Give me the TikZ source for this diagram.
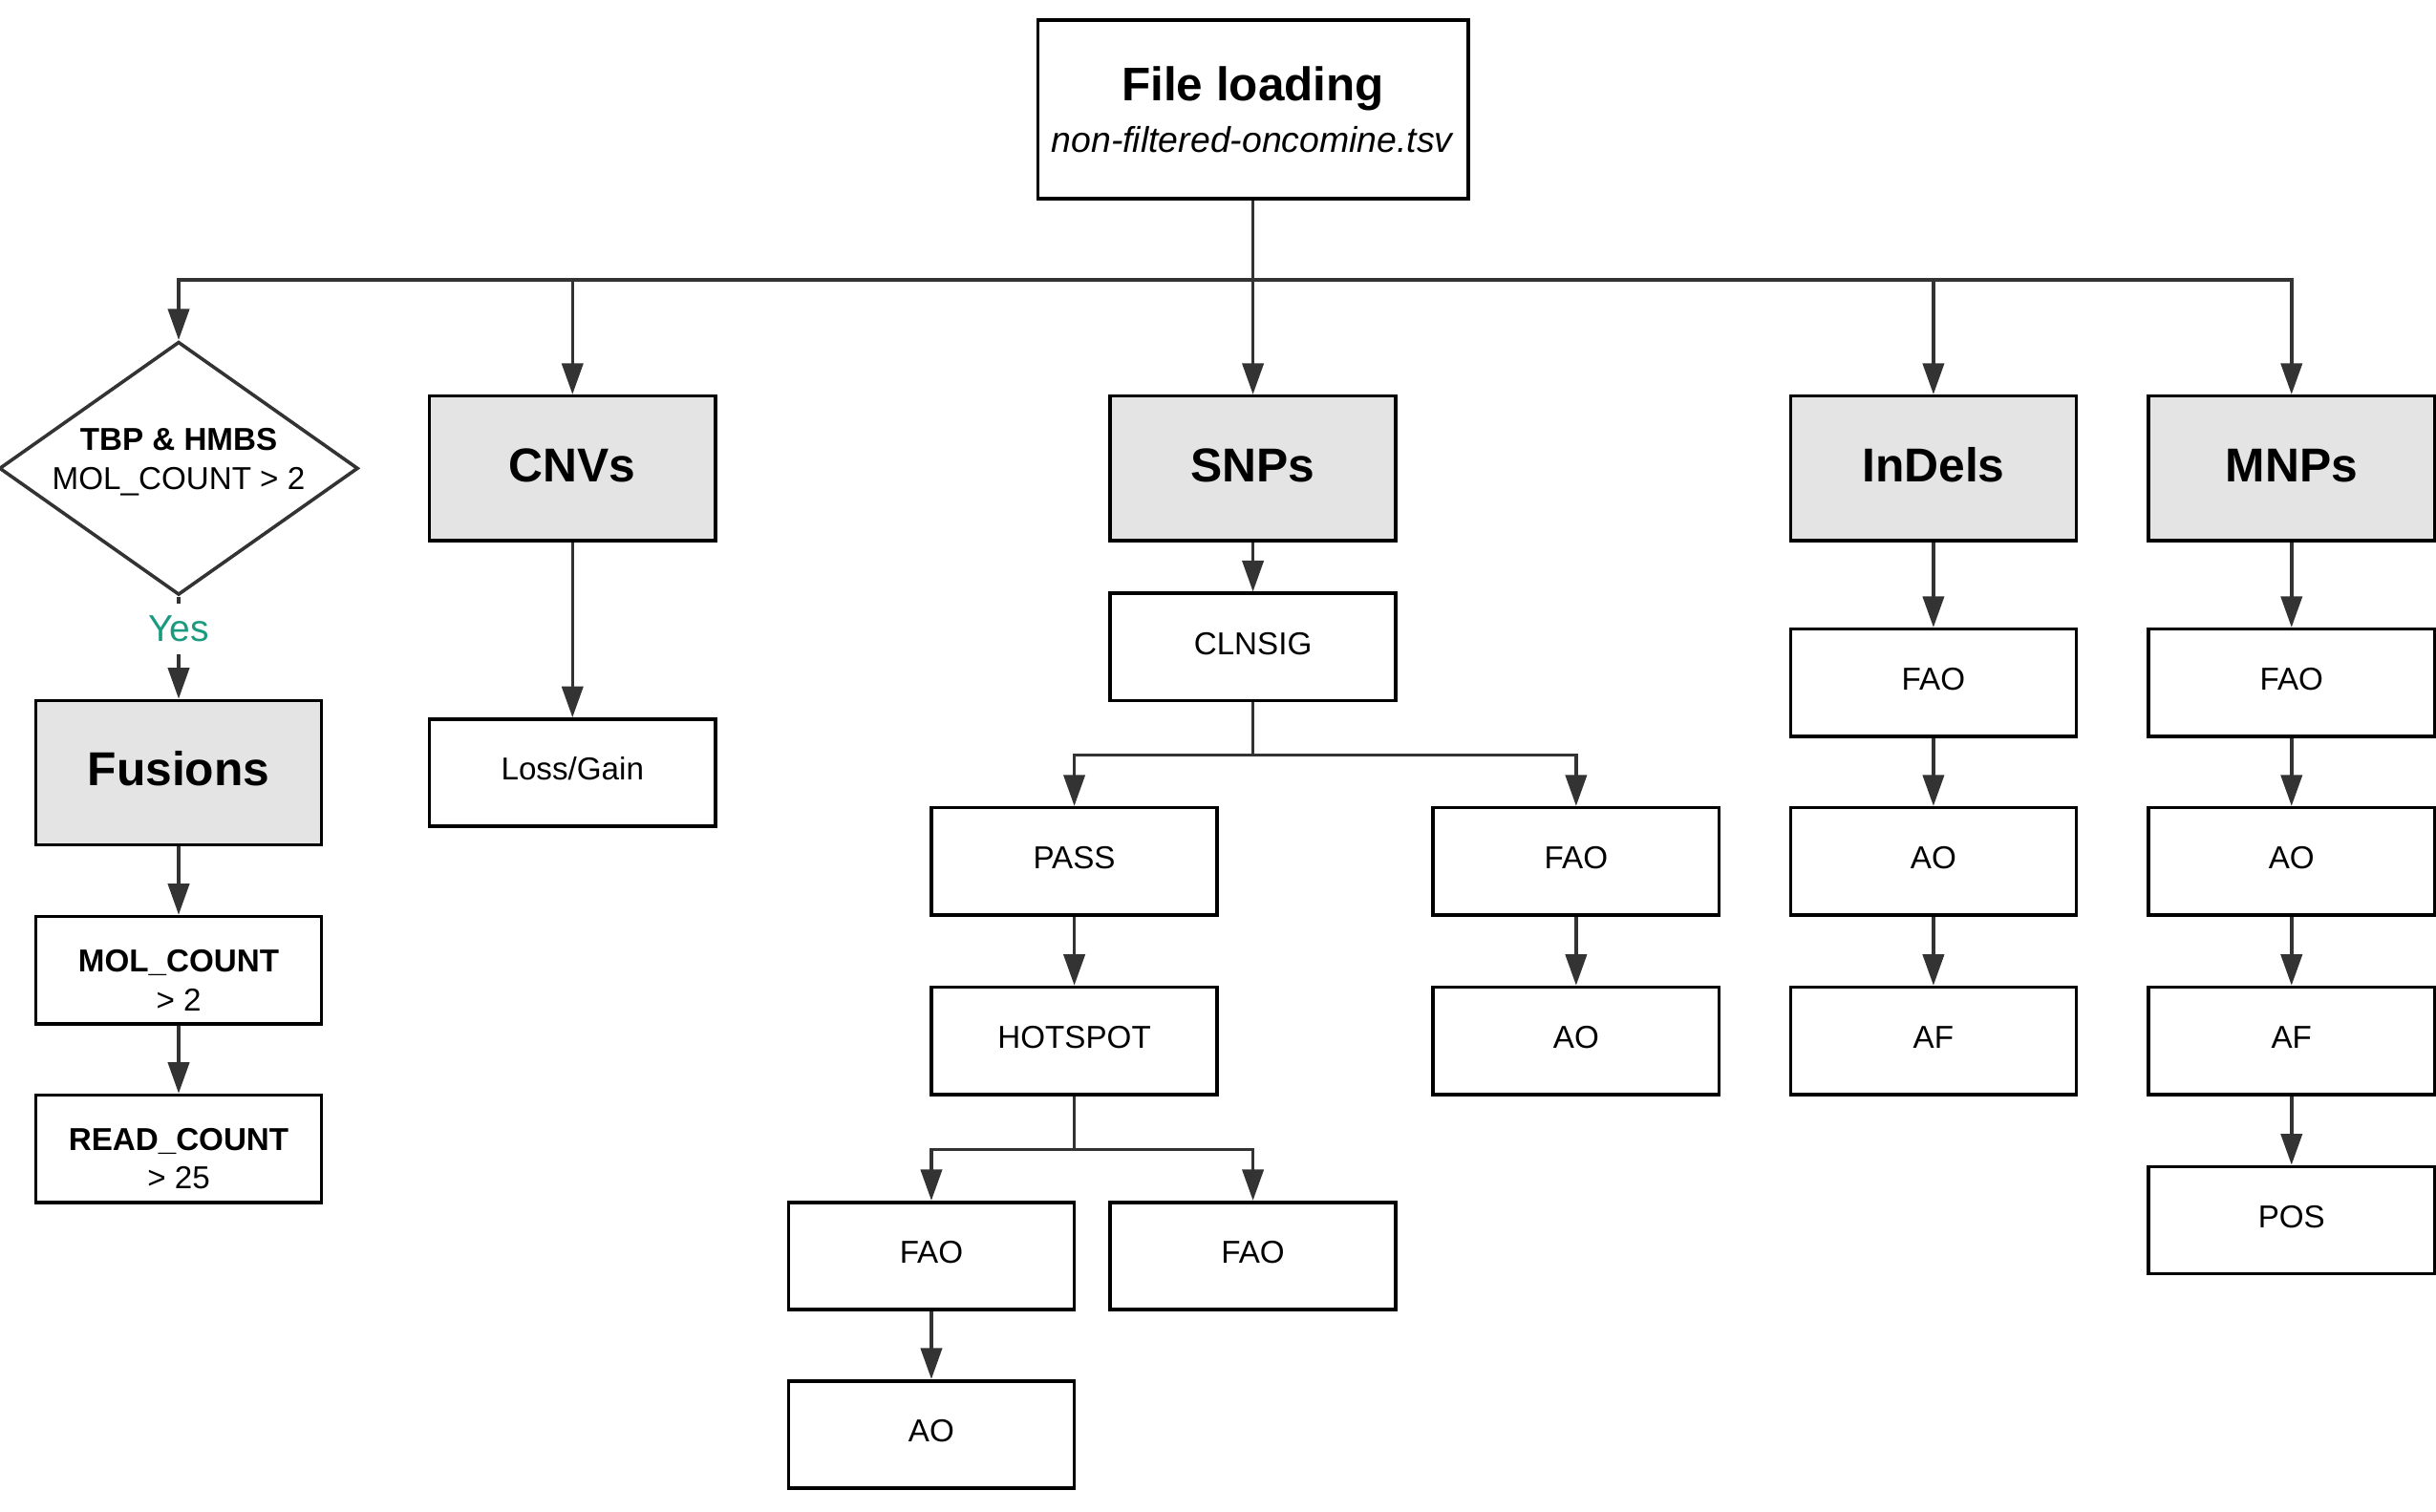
\documentclass[tikz,border=0pt]{standalone}
\usepackage{fontspec}
\setmainfont{Liberation Sans}
\usetikzlibrary{arrows.meta,shapes.geometric,calc}
\definecolor{conncol}{HTML}{333333}
\definecolor{headfill}{HTML}{E4E4E4}
\definecolor{yescol}{HTML}{1A9B7F}
\begin{document}
\begin{tikzpicture}[x=0.5pt,y=-0.5pt,
  box/.style={draw=black, line width=1.1pt, minimum width=92pt, minimum height=34.5pt, inner sep=0pt,
    font=\fontsize{10.2}{12.5}\selectfont, align=center, text height=7.3pt, text depth=2.5pt},
  head/.style={box, fill=headfill, minimum height=46.5pt, font=\fontsize{15.3}{18}\selectfont\bfseries,
    text height=11pt, text depth=2.5pt},
  txt/.style={inner sep=0pt, font=\fontsize{10.2}{12.5}\selectfont, align=center},
  conn/.style={draw=conncol, line width=1.1pt},
  arr/.style={conn, -{Triangle[length=10pt,width=6.8pt]}},
]
\useasboundingbox (0,0) rectangle (1568,973);

% top
\node[draw=black, line width=1.1pt, minimum width=138.5pt, minimum height=57.5pt, inner sep=0pt,
  align=center, font=\fontsize{11.5}{16.8}\selectfont] (file) at (806.5,70.5)
  {{\fontsize{15.2}{16.8}\selectfont\bfseries File loading}\\\textit{non-filtered-oncomine.tsv}};
\coordinate (bus1) at (0,180);

% fusions column
\node[diamond, draw=conncol, line width=1.1pt, minimum width=115.5pt, minimum height=81.5pt,
  inner sep=0pt, aspect=1.417] (dec) at (115,301.5) {};
\node[txt] (dectext) at (115,297.5)
  {\textbf{TBP \& HMBS}\\MOL\_COUNT > 2};
\node[text=yescol, font=\fontsize{12}{14}\selectfont, inner sep=0pt, minimum height=16pt] (yes) at (115,405) {Yes};
\node[head] (fus) at (115,497.5) {Fusions};
\node[box] (mol) at (115,624.5) {};
\node[txt] (moltext) at (115,631) {\textbf{MOL\_COUNT}\\> 2};
\node[box] (read) at (115,739.5) {};
\node[txt] (readtext) at (115,746) {\textbf{READ\_COUNT}\\> 25};

% CNVs
\node[head] (cnv) at (368.5,301.5) {CNVs};
\node[box] (loss) at (368.5,497.5) {Loss/Gain};

% SNPs
\node[head] (snp) at (806.5,301.5) {SNPs};
\node[box] (cln) at (806.5,416.5) {CLNSIG};
\node[box] (pass) at (691.5,554.5) {PASS};
\node[box] (sfao) at (1014.5,554.5) {FAO};
\node[box] (hot) at (691.5,670) {HOTSPOT};
\node[box] (sao) at (1014.5,670) {AO};
\node[box] (hfaoa) at (599.5,808.5) {FAO};
\node[box] (hfaob) at (806.5,808.5) {FAO};
\node[box] (hao) at (599.5,923.5) {AO};
\coordinate (bus2) at (0,486);
\coordinate (bus3) at (0,740);

% InDels
\node[head] (ind) at (1244.5,301.5) {InDels};
\node[box] (ifao) at (1244.5,439.5) {FAO};
\node[box] (iao) at (1244.5,554.5) {AO};
\node[box] (iaf) at (1244.5,670) {AF};

% MNPs
\node[head] (mnp) at (1475,301.5) {MNPs};
\node[box] (mfao) at (1475,439.5) {FAO};
\node[box] (mao) at (1475,554.5) {AO};
\node[box] (maf) at (1475,670) {AF};
\node[box] (mpos) at (1475,785.5) {POS};

% connectors from file
\foreach \t in {dec,cnv,snp,ind,mnp}
  \draw[arr] (file.south) -- (file.south |- bus1) -| (\t.north);

% fusions
\draw[conn] (dec.south) -- (yes.north);
\draw[arr] (yes.south) -- (fus.north);
\draw[arr] (fus) -- (mol);
\draw[arr] (mol) -- (read);

% cnv
\draw[arr] (cnv) -- (loss);

% snp
\draw[arr] (snp) -- (cln);
\draw[arr] (cln.south) -- (cln.south |- bus2) -| (pass.north);
\draw[arr] (cln.south) -- (cln.south |- bus2) -| (sfao.north);
\draw[arr] (pass) -- (hot);
\draw[arr] (sfao) -- (sao);
\draw[arr] (hot.south) -- (hot.south |- bus3) -| (hfaoa.north);
\draw[arr] (hot.south) -- (hot.south |- bus3) -| (hfaob.north);
\draw[arr] (hfaoa) -- (hao);

% indels
\draw[arr] (ind) -- (ifao);
\draw[arr] (ifao) -- (iao);
\draw[arr] (iao) -- (iaf);

% mnps
\draw[arr] (mnp) -- (mfao);
\draw[arr] (mfao) -- (mao);
\draw[arr] (mao) -- (maf);
\draw[arr] (maf) -- (mpos);
\end{tikzpicture}
\end{document}
